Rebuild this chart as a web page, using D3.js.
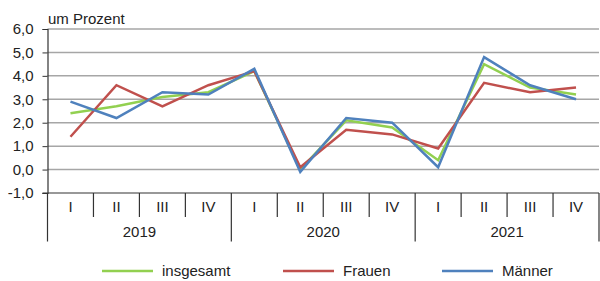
<!DOCTYPE html>
<html><head><meta charset="utf-8">
<script src="https://cdn.jsdelivr.net/npm/d3@7"></script>
<style>body{margin:0;background:#fff}svg{display:block}text{font-family:"Liberation Sans",Arial,sans-serif;fill:#222}</style>
</head><body><svg id="c" width="600" height="281"></svg>
<script>
const years = ["2019","2020","2021"];
const quarters = ["I","II","III","IV"];
const insgesamt = [2.4,2.7,3.1,3.3,4.2,0.0,2.1,1.8,0.4,4.5,3.5,3.2];
const frauen   = [1.4,3.6,2.7,3.6,4.2,0.1,1.7,1.5,0.9,3.7,3.3,3.5];
const maenner  = [2.9,2.2,3.3,3.2,4.3,-0.1,2.2,2.0,0.1,4.8,3.6,3.0];
const yTicks = [-1,0,1,2,3,4,5,6];
const seriesNames = ["insgesamt","Frauen","Männer"];
const seriesColors = ["#92d050","#c0504d","#4f81bd"];

const cats = [];
years.forEach(y=>quarters.forEach(q=>cats.push(y+"-"+q)));
const series = [insgesamt, frauen, maenner];

const svg = d3.select("#c");
const L=47.5, R=599, T=29, B=193;
const FS = "15px";
const x = d3.scaleBand().domain(cats).range([L,R]);
const y = d3.scaleLinear().domain([-1,6]).range([B,T]);
const fmt = v => d3.format(".1f")(v).replace(".",",").replace("−","-");

// gridlines
svg.append("g").selectAll("line").data(yTicks.filter(t=>t>-1)).join("line")
  .attr("x1",L).attr("x2",R).attr("y1",d=>y(d)).attr("y2",d=>y(d))
  .attr("stroke","#a6a6a6").attr("stroke-width",1.5);

// y axis
const ya = svg.append("g").attr("transform",`translate(${L},0)`)
  .call(d3.axisLeft(y).tickValues(yTicks).tickFormat(fmt).tickSize(5).tickPadding(9));
ya.select(".domain").attr("stroke","#333").attr("stroke-width",1.2);
ya.selectAll(".tick line").attr("stroke","#333");
ya.selectAll("text").style("font-size",FS).attr("fill","#222").style("font-family","Liberation Sans, Arial, sans-serif");

// x axis baseline
svg.append("line").attr("x1",L-5).attr("x2",R).attr("y1",B).attr("y2",B).attr("stroke","#333").attr("stroke-width",1.2);

// quarter separators
const bounds = cats.map(c=>x(c)).concat([R]);
svg.append("g").selectAll("line").data(bounds).join("line")
  .attr("x1",d=>d).attr("x2",d=>d).attr("y1",B)
  .attr("y2",(d,i)=> (i%4===0) ? 241.5 : 217)
  .attr("stroke","#333").attr("stroke-width",1.2);

// quarter labels
svg.append("g").selectAll("text").data(cats).join("text")
  .attr("x",d=>x(d)+x.bandwidth()/2).attr("y",212).attr("text-anchor","middle")
  .style("font-size",FS).text(d=>d.split("-")[1]);

// year labels
svg.append("g").selectAll("text").data(years).join("text")
  .attr("x",d=>(x(d+"-I")+x(d+"-IV")+x.bandwidth())/2).attr("y",237).attr("text-anchor","middle")
  .style("font-size",FS).text(d=>d);

// unit label
svg.append("text").attr("x",48).attr("y",24).style("font-size",FS).text("um Prozent");

// lines
const line = d3.line().x((d,i)=>x(cats[i])+x.bandwidth()/2).y(d=>y(d));
series.forEach((s,k)=>{
  svg.append("path").datum(s).attr("d",line).attr("fill","none")
    .attr("stroke",seriesColors[k]).attr("stroke-width",2.5).attr("stroke-linejoin","miter");
});

// legend
const legX = [102, 283, 442];
seriesNames.forEach((n,k)=>{
  const g = svg.append("g");
  g.append("line").attr("x1",legX[k]).attr("x2",legX[k]+51).attr("y1",271).attr("y2",271)
    .attr("stroke",seriesColors[k]).attr("stroke-width",2.5);
  g.append("text").attr("x",legX[k]+60).attr("y",276).style("font-size",FS).text(n);
});
</script></body></html>
